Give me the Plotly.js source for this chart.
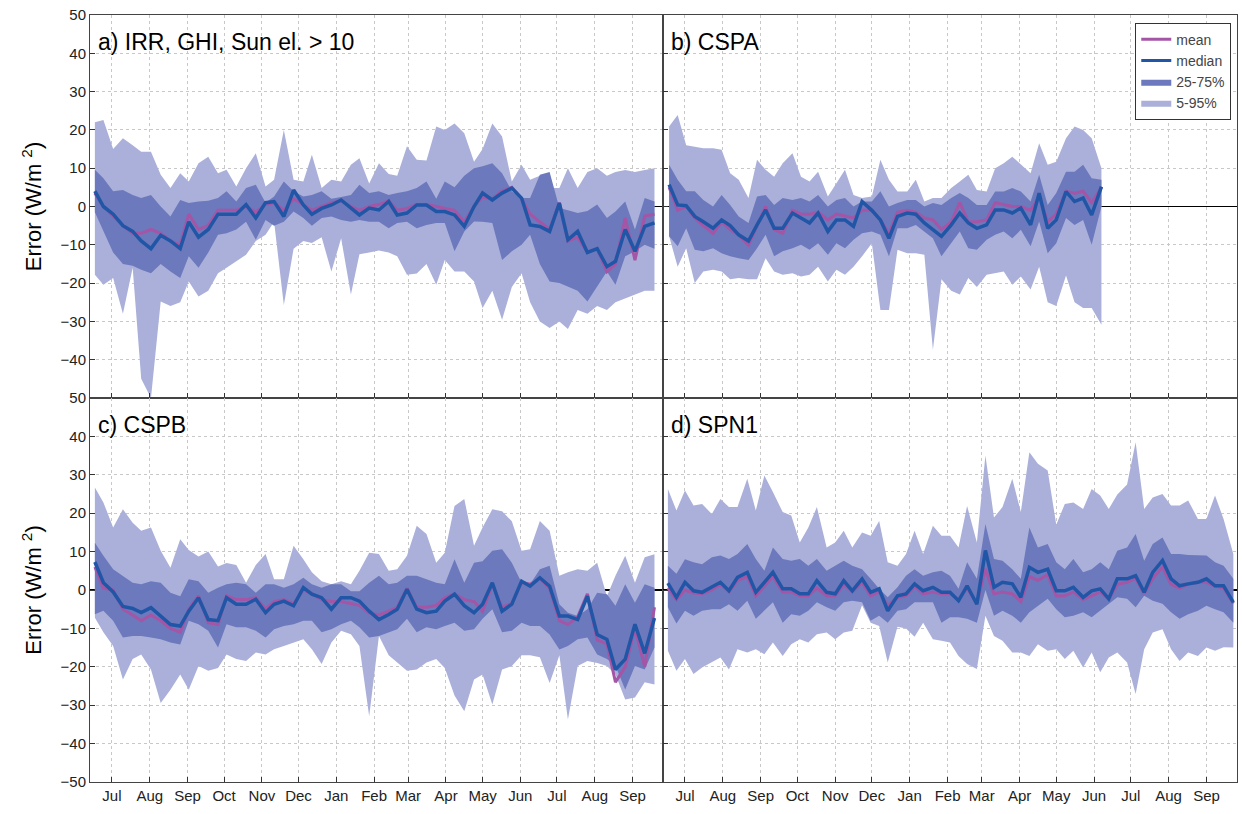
<!DOCTYPE html>
<html><head><meta charset="utf-8">
<script src="https://cdn.plot.ly/plotly-3.0.1.min.js"></script>
<style>body{margin:0;background:#fff}#c{width:1242px;height:814px}</style>
</head><body><div id="c"></div>
<script>
// ---- data: panel a) IRR ----
const a_mean=[3.5,0,-2.5,-5,-7,-7,-6,-7,-9,-10, -2,-6,-5,-1,-1,-1,0,-1.5,0.5,1, -1,2,0.5,-1,0,1,1.5,0,-1,0, 0.5,1.5,-1,-0.5,0.5,0.5,0,-0.5,-1, -4,0,2.5,2,4,5,2,-2,-4,-6, 1,-9,-8,-12,-11,-17,-15,-3,-14,-2.5,-2];
const a_median=[4,0,-2,-5,-6.5,-9,-11,-7.5,-9,-11, -4,-8,-6,-2,-2,-2,0.5,-3,1,1.3, -2.6,4.3,0.4,-2,-0.5,0.4,1.7,-0.4,-2.2,-0.4, -0.9,1.3,-2.2,-1.7,0.4,0.4,-1.3,-1.3,-2.2, -5.2,0,3.5,1.7,3.5,4.8,2.2,-4.8,-5.2,-6.5, 0.9,-8.7,-6.5,-12,-11,-15.7,-14.3,-6,-11.7,-5.2,-4.3];
const a_p25=[-1.5,-6.5,-12,-15,-15.5,-16.5,-17.4,-15,-17,-18.7, -13,-16,-12,-7.4,-7,-6,-4,-8.7,-3.5,-5, -4,-1.3,-3,-5,-3,-2.6,-3.5,-4,-3.5,-4, -4,-5.7,-4.3,-4,-5.7,-4.8,-4.3,-4.3,-11.7,-6.5, -3.9,-4,-4.3,-14,-11.7,-10,-7.4,-15,-19.6,-20, -21,-22,-24.8,-21,-17,-20.4,-13,-11.7,-10,-11];
const a_p75=[9.6,7.4,4,4.3,3,2.2,3,0,-2.6,1.7, 0.9,1.3,1.5,2.2,4,1.3,4.8,5.7,1,2.6, 6.5,4,2.6,3,4,2,2.5,3,5.7,3.5, 4,3,3.5,4,4.8,6.5,2,6.5,5,8, 10,10.5,11.3,8.7,4,2.2,2.2,8.3,9,-0.4, -1,-1.7,-1.2,0.5,-3,-1.3,1.3,-6,2.2,1.3];
const a_p5=[-17.8,-20.4,-18.7,-28,-16,-45,-50,-24.8,-26,-25, -19.6,-23.5,-22,-17.4,-16,-14.3,-12.6,-9,-7.4,-4, -25.7,-11,-9,-9.5,-8,-17,-8.3,-23,-12.5,-12, -11.5,-12,-13,-17.8,-17.5,-15,-20.4,-14,-17,-17, -19.6,-26.5,-22,-29.6,-21,-17.4,-25,-30,-31.7,-30, -32,-27,-28,-26,-27,-25,-24,-23,-22,-22];
const a_p95=[22,22.6,15,17.8,16,14.3,14.3,8.3,4.8,8.7, 6.5,11.3,13,8.7,9.6,5.2,10,13.9,5.2,7, 20,7,6.5,13.5,4.8,7,6.5,10.9,12.6,6, 11.3,8.5,8,15.7,12.2,12,20.9,20,21.7,19.1, 11.7,15,21.7,18.3,6.5,10.9,7,8,4.8,4.8, 10,4.8,9,10,8,9,9.5,9,9.5,10];
// ---- panel b) CSPA ----
const b_mean=[5,-1,0,-3,-5,-7,-4,-6,-7.5,-10, -5,0,-6,-7,-1,-2,-2,-1.5,-3.5,-2, -2.5,-3,-1,-1,-3.5,-7,-1.5,-1,-1.5,-3, -3.5,-6,-4,1,-4,-4,-3.5,1,0.5,0, 0,-1,2.5,-4,-2,4,3.5,4,1,5];
const b_median=[5.7,0.4,0.2,-2.6,-4,-5.7,-3.5,-5,-7.4,-9, -4.8,-0.9,-5.7,-5.7,-1.7,-3,-4.3,-1.7,-6.5,-3.5, -3.5,-5.2,1.3,-1,-3.5,-8.3,-2.6,-1.7,-2,-4.3, -6,-7.8,-4.8,-1.7,-4.3,-5.7,-4.8,-0.9,-0.9,-1.7, -0.4,-4.8,3.5,-5.7,-3.5,3.9,1.3,2.2,-2.2,5.2];
const b_p25=[-7.8,-10.4,-5.7,-11.3,-11.7,-10.9,-12.2,-13,-13.5,-14, -10.9,-7.4,-13,-11.7,-10.9,-10,-11.3,-9.6,-12.6,-9.6, -10.9,-8.7,-7,-6.5,-7.4,-13,-5.7,-5.7,-4.8,-6.5, -8.3,-13,-9.6,-6.5,-10.9,-11.3,-8.7,-7.4,-6.5,-8.3, -6.1,-10.4,-3.9,-12.2,-9.6,-3,-4.8,-3.5,-10,0];
const b_p75=[10.9,7,4,4,1.7,0,3,0.4,-2.6,-4.3, 2.6,3,0.4,2.2,1.7,2.2,1.3,3,0,1.7, 2.2,0,1.3,1.3,4,0,0.9,1.7,1.7,0, 0.9,0.4,2.2,3.5,2.2,0.4,0.4,3.9,3.9,4.8, 3.9,1.3,8.3,0.4,3.5,9.1,9.1,10.9,7.4,7];
const b_p5=[-7.8,-15.7,-10.9,-20,-17,-16.5,-17,-19,-18.7,-19, -19,-13.5,-17,-17.8,-17.4,-18.3,-17.8,-15.7,-19.6,-16.5, -17.8,-15.7,-13,-9.6,-27,-27,-11.3,-12.2,-12.2,-12.6, -37.4,-19,-22,-23,-18.7,-21,-17.8,-17.4,-17,-20.4, -18.3,-21.7,-15.7,-25,-26,-18,-25,-26.5,-26.5,-30.9];
const b_p95=[20.9,23.9,16,15.6,15.2,15.2,14.8,8.7,7,2.2, 12.2,9.6,7.8,11.3,13.9,7.8,6.5,9.1,2.6,6.1, 9.6,3,2.2,2.6,12.2,7,3.9,3.9,7,1.3, 2.2,2.2,4.8,6.5,8.3,4.3,3.9,10,11.3,13, 10.9,8.7,16.5,10.9,11.7,17.8,20.9,20,17.8,10];
// ---- panel c) CSPB ----
const c_mean=[6,0.5,0,-5,-6.5,-8,-6.5,-8,-10,-11, -5,-1.5,-8.5,-9,-1.5,-2.5,-2.5,-2,-5,-3, -2.5,-3.5,0,-1,-2.5,-3,-3,-3.5,-4,-6, -6.5,-5.5,-4.5,0.5,-4.5,-4.5,-4,-2,-1,-2.5, -3,-5.5,1.5,-4.5,-3.5,2,1.5,3,0.5,-8, -9,-7,-1,-13,-14,-24,-20,-10,-20,-4.5];
const c_median=[7.3,1.9,-0.5,-4.3,-4.8,-5.9,-4.6,-6.8,-9,-9.4, -5.5,-2,-7.7,-8,-2,-3.7,-3.7,-2.4,-5.9,-3.7, -2.9,-4.1,0.6,-1.1,-2,-5,-2,-2,-2.9,-5.5, -7.7,-6.4,-5,0.2,-5,-5.9,-5.5,-2.9,-1.1,-4.1, -5.9,-3.7,1.9,-5.5,-3.7,2.3,1,3.2,1,-6.8, -6.8,-7.7,-1.6,-11.6,-12.9,-20.7,-18,-8.9,-16.5,-7.3];
const c_p25=[-6.3,-5.4,-8,-12.4,-12,-12,-12.4,-12.8,-13.7,-14.2, -8,-8.9,-10.6,-15,-8.9,-9.7,-9.7,-10.6,-12.4,-10.2, -9.4,-8.9,-8,-8,-11,-10.2,-8.9,-8,-9.7,-12.4, -12,-11,-10.2,-7.5,-11,-9.7,-10.2,-9.4,-8.5,-10.6, -10.2,-7.5,-5,-11,-10.6,-8.5,-9.4,-9.4,-11.6,-15.5, -14.6,-12.8,-12.4,-16.8,-18,-19.8,-25.9,-19.8,-20.7,-15];
const c_p75=[12.3,8.9,5.4,3.7,1.9,1.5,2.3,1.9,-0.7,-1.6, 2.8,2.3,-0.7,0.6,1.5,1.9,1.5,-0.7,1.5,1.5, 0.6,1.5,3.2,1.5,0.6,1.5,1.5,-0.3,-0.3,1.9, 3.7,1.5,1.9,3.7,3.7,2.8,1.9,1.5,8,1.9, 7.1,7.5,10.2,10.6,7.1,1.9,1.5,5.4,6.3,-3.7, -5.9,-6.8,-5,-0.7,-1.1,-4.1,1.5,-3.3,1.5,0.6];
const c_p5=[-7.2,-11,-14.6,-23.3,-18,-16.8,-20.7,-29.4,-26,-22, -26,-19.8,-21,-20.3,-16.8,-18,-18.5,-16.3,-16.8,-15.4, -14.6,-13.7,-12.8,-15.4,-19.3,-13.7,-10.6,-11.5,-14.6,-32.9, -12,-17,-18.9,-21,-20.7,-18.9,-18,-20.3,-27.5,-31.6, -23.3,-22,-29.8,-20.7,-19.8,-17,-17,-17.5,-24.2,-17, -33.7,-19.8,-18.5,-19,-19.8,-22,-28.5,-28,-24,-24.6];
const c_p95=[26.7,22.8,16.3,21,17.5,15.4,16.3,10.2,5.8,13.2, 10.4,8.7,10,6.1,7,6.5,1.9,6.5,9.4,2.8, 2.8,11.5,8,4.6,2.3,1.5,2.3,1.5,5,9.7, 9.4,5,5.4,8.9,16.7,14.6,7.1,9.7,21.9,23.7, 11.5,16.3,21,20.5,17.9,10.2,10.6,18,15.4,3.7, 4.6,5.4,5,7.1,-1.6,3.7,8.9,1.9,8.5,9.3];
// ---- panel d) SPN1 ----
const d_mean=[0.5,-2.5,0,-0.8,-1,0,1.5,-0.5,2.5,3.5, -1.5,1,3.5,-0.5,-0.5,-1.5,-1.5,0.5,-1.5,-1.5, 1.5,-0.5,2,-1.5,-0.5,-4,-2,-1.5,1,-1, -0.5,-1,-1,-2.5,0.5,-3.5,5.5,-1,-0.5,-1, -3,3.5,2.5,4,-1.5,-1.5,-0.5,-2.5,-1.5,-0.5, -2.5,1.5,2,3,-1,3,6,1.5,0.5,1.5, 2,2,1,0.5,-3.5];
const d_median=[1.8,-1.9,2,-0.2,-0.6,0.7,2,-0.2,3.3,4.6, -0.6,2,4.6,0.3,0.3,-1,-1,2.4,-0.6,-1, 2.4,-0.2,2.9,-0.6,0.3,-5.4,-1.5,-1,1.6,-0.2, 0.7,-0.6,-0.6,-2.8,1.1,-3.7,10.3,0.7,2,1.6, -1.9,5.9,4.6,5.4,-0.2,-0.2,0.7,-1.9,-0.2,0.3, -2.3,2.9,2.9,3.7,-0.6,4.6,7.7,2.9,1.1,1.6, 2,2.9,1.1,1.1,-3.2];
const d_p25=[-4.5,-8.7,-5.4,-6.7,-5.4,-5,-5,-3.7,-5.4,-2.8, -7.5,-5.4,-3.2,-8.5,-6.3,-6.7,-5.4,-3.2,-4.5,-5.4, -3.2,-2.8,-3.2,-8,-6.7,-8.5,-5.4,-5,-3.2,-3.2, -3.2,-8.5,-7.1,-7.1,-7.5,-8.5,0,-6.7,-5.4,-6.7, -8.5,-5.8,-4.1,-2.3,-5,-7.1,-6.7,-5.8,-7.1,-5.4, -3.6,-1.9,-2.3,-4.5,-1.5,-2.8,-3.6,-5.8,-7.5,-6.3, -5.4,-4.1,-5,-5.8,-8.5];
const d_p75=[6.3,4.2,8,7.2,6.7,8.5,9,8.1,9.4,12, 8.1,5,11.1,8.1,7.6,8.1,6.3,8.1,5,6.3, 7.6,6.3,5.4,2.9,0.3,-1.9,0.7,3.7,5.4,3.7, 4.6,5,3.7,0.3,7.2,2.9,17.2,8.1,7.6,5.4, 2.9,16.3,11.1,12,7.2,5.4,8.1,4.6,5.4,7.2, 5.4,10.2,11.1,14.6,7.6,12,13.7,9.4,9.4,9.1, 9,9,7.2,6.3,2.9];
const d_p5=[-15.8,-21,-18,-21.9,-20.2,-18.9,-17.6,-20.7,-15.4,-16.3, -15.4,-16.7,-13.7,-17.2,-14.1,-12.8,-13.7,-11.5,-11.1,-12.8, -11.1,-10.6,-4,-8.5,-9.4,-18.9,-9.6,-10,-12.2,-8.5, -12.8,-13.2,-13.7,-17.2,-19.3,-20.6,-6.7,-12,-13.2,-16.3, -16.3,-17.2,-14.1,-15.8,-15.4,-18,-15.8,-20.2,-16.3,-21.4, -17.6,-16.3,-18.9,-27.1,-15.4,-11.1,-10.2,-15.4,-18.5,-16.3, -17.2,-15,-15.8,-14.9,-15];
const d_p95=[26.3,20.7,25.9,22,22.4,19.8,23.7,21.6,21.6,29, 20.7,29.8,25.5,20.3,19.4,12.4,16.3,21.6,11.1,12.4, 15.4,11.1,15,14.1,18,7.2,6.3,9.4,15.4,9.4, 16.7,14.1,14.1,11.1,21.9,12.4,35,18.9,21.6,29, 20.3,35.9,32.9,31.1,17,22.4,22.8,21.1,26.3,24.6, 21.1,24.9,27.5,38.5,21.1,24.1,25,22,22,23.3, 18.5,18.5,24.6,18.5,9.4];
// period covered by each panel's samples (first, last)
const periods={a:['2017-06-17','2018-09-19'],b:['2017-06-18','2018-06-07'],c:['2017-06-17','2018-09-19'],d:['2017-06-17','2018-09-23']};
const titles={a:'a) IRR, GHI, Sun el. > 10',b:'b) CSPA',c:'c) CSPB',d:'d) SPN1'};
const monthTicks=['2017-07-01','2017-08-01','2017-09-01','2017-10-01','2017-11-01','2017-12-01','2018-01-01','2018-02-01','2018-03-01','2018-04-01','2018-05-01','2018-06-01','2018-07-01','2018-08-01','2018-09-01'];
const monthLabels=['Jul','Aug','Sep','Oct','Nov','Dec','Jan','Feb','Mar','Apr','May','Jun','Jul','Aug','Sep'];

const panels={a:[a_mean,a_median,a_p25,a_p75,a_p5,a_p95],b:[b_mean,b_median,b_p25,b_p75,b_p5,b_p95],c:[c_mean,c_median,c_p25,c_p75,c_p5,c_p95],d:[d_mean,d_median,d_p25,d_p75,d_p5,d_p95]};
const axes={a:['x','y'],b:['x2','y2'],c:['x3','y3'],d:['x4','y4']};
const LIGHT='rgb(170,176,218)',DARK='rgb(108,121,188)',MED='rgb(33,86,166)',MEAN='rgb(165,85,165)';

function dates(key,n){const t0=Date.parse(periods[key][0]),t1=Date.parse(periods[key][1]);
  const out=[];for(let i=0;i<n;i++){out.push(new Date(t0+(t1-t0)*i/(n-1)).toISOString().slice(0,10));}return out;}

const traces=[];
for(const k of ['a','b','c','d']){
  const [mn,md,p25,p75,p5,p95]=panels[k];const [xa,ya]=axes[k];
  const xb=dates(k,p5.length), xm=dates(k,md.length);
  traces.push({x:xb,y:p5,xaxis:xa,yaxis:ya,mode:'lines',line:{width:0},showlegend:false});
  traces.push({x:xb,y:p95,xaxis:xa,yaxis:ya,mode:'lines',line:{width:0},fill:'tonexty',fillcolor:LIGHT,showlegend:false});
  traces.push({x:xb,y:p25,xaxis:xa,yaxis:ya,mode:'lines',line:{width:0},showlegend:false});
  traces.push({x:xb,y:p75,xaxis:xa,yaxis:ya,mode:'lines',line:{width:0},fill:'tonexty',fillcolor:DARK,showlegend:false});
  traces.push({x:xm,y:mn,xaxis:xa,yaxis:ya,mode:'lines',line:{color:MEAN,width:3},showlegend:false});
  traces.push({x:xm,y:md,xaxis:xa,yaxis:ya,mode:'lines',line:{color:MED,width:3.5},showlegend:false});
}
traces.push({x:[null],y:[null],mode:'lines',line:{color:MEAN,width:3},name:'mean'});
traces.push({x:[null],y:[null],mode:'lines',line:{color:MED,width:3},name:'median'});
traces.push({x:[null],y:[null],mode:'lines',fill:'toself',fillcolor:DARK,line:{width:0,color:DARK},name:'25-75%'});
traces.push({x:[null],y:[null],mode:'lines',fill:'toself',fillcolor:LIGHT,line:{width:0,color:LIGHT},name:'5-95%'});

const xl=573/1147, yb=384/767;
const F='Liberation Sans, Arial';
function xax(dom,anchor,show){return {domain:dom,anchor,type:'date',range:['2017-06-13','2018-09-26'],tickvals:monthTicks,ticktext:monthLabels,showticklabels:show,
  ticks:'inside',ticklen:5,tickcolor:'#333',showline:true,mirror:true,linecolor:'#444',linewidth:1,showgrid:true,gridcolor:'#c8c8c8',griddash:'dot',gridwidth:1,
  tickfont:{family:F,size:15,color:'#222'},zeroline:false};}
function yax(dom,anchor,show,vals){return {domain:dom,anchor,range:[-50,50],tickvals:vals,showticklabels:show,
  ticks:'inside',ticklen:5,tickcolor:'#333',showline:true,mirror:true,linecolor:'#444',linewidth:1,showgrid:true,gridcolor:'#c8c8c8',griddash:'dot',
  zeroline:true,zerolinecolor:'#000',zerolinewidth:1.5,tickfont:{family:F,size:15,color:'#222'},
  title:show?{text:'Error (W/m <sup>2</sup>)',font:{family:F,size:22,color:'#000'},standoff:12}:undefined};}
const topVals=[-40,-30,-20,-10,0,10,20,30,40,50], botVals=[-50,-40,-30,-20,-10,0,10,20,30,40,50];
const layout={width:1242,height:814,margin:{l:90,r:5,t:15,b:32},paper_bgcolor:'#fff',plot_bgcolor:'#fff',
  xaxis:xax([0,xl],'y',false),yaxis:yax([yb,1],'x',true,topVals),
  xaxis2:xax([xl,1],'y2',false),yaxis2:yax([yb,1],'x2',false,topVals),
  xaxis3:xax([0,xl],'y3',true),yaxis3:yax([0,yb],'x3',true,botVals),
  xaxis4:xax([xl,1],'y4',true),yaxis4:yax([0,yb],'x4',false,botVals),
  legend:{x:0.995,y:0.99,xanchor:'right',yanchor:'top',bgcolor:'#fff',bordercolor:'#333',borderwidth:1,font:{family:F,size:14},tracegroupgap:0,traceorder:'normal'},
  showlegend:true,
  annotations:[
   {text:titles.a,xref:'paper',yref:'paper',x:0.005,y:0.985,xanchor:'left',yanchor:'top',showarrow:false,font:{family:F,size:23,color:'#000'}},
   {text:titles.b,xref:'paper',yref:'paper',x:xl+0.005,y:0.985,xanchor:'left',yanchor:'top',showarrow:false,font:{family:F,size:23,color:'#000'}},
   {text:titles.c,xref:'paper',yref:'paper',x:0.005,y:yb-0.015,xanchor:'left',yanchor:'top',showarrow:false,font:{family:F,size:23,color:'#000'}},
   {text:titles.d,xref:'paper',yref:'paper',x:xl+0.005,y:yb-0.015,xanchor:'left',yanchor:'top',showarrow:false,font:{family:F,size:23,color:'#000'}}
  ]};
Plotly.newPlot('c',traces,layout,{staticPlot:true});
</script></body></html>
